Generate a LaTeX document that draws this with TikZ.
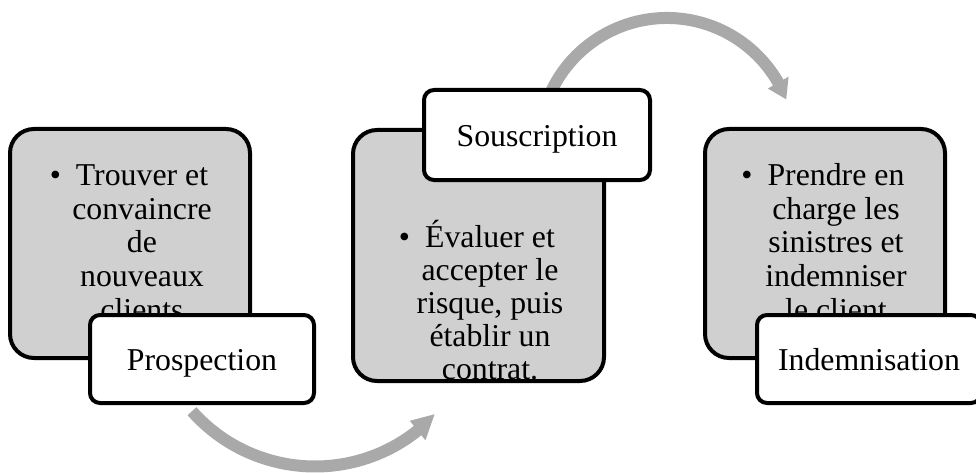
\documentclass[tikz,border=0pt]{standalone}
\usepackage{fontspec}
\setmainfont{Liberation Serif}
\definecolor{panelgray}{RGB}{208,208,208}
\definecolor{flowgray}{RGB}{169,169,169}
\newcommand\bodyfont{\fontsize{31.8}{33.8}\selectfont}
\newcommand\midfont{\fontsize{31.8}{33}\selectfont}
\begin{document}
\begin{tikzpicture}[x=1pt,y=1pt,
  panel/.style={draw=black, line width=4pt, fill=panelgray, rounded corners=24pt, inner sep=0pt},
  tag/.style={draw=black, line width=4pt, fill=white, rounded corners=10pt, inner sep=0pt,
    font=\bodyfont, text height=23pt, text depth=1pt},
  body/.style={align=center, anchor=north, inner sep=0pt, font=\bodyfont},
  flow/.style={draw=flowgray, line width=12pt},
  flowhead/.style={fill=flowgray}]
\useasboundingbox (0,0) rectangle (976,472);

% curved process arrows (drawn first, they pass behind the labels)
\coordinate (topc) at (667,326);
\coordinate (botc) at (315,170);
\draw[flow] ([shift={(165:128)}]topc) arc[start angle=165, end angle=28.5, radius=128];
\fill[flowhead] ([shift={(21.4:128)}]topc) -- ([shift={(29.7:116)}]topc) -- ([shift={(29.7:140)}]topc) -- cycle;
\draw[flow] ([shift={(221.6:164.5)}]botc) arc[start angle=221.6, end angle=310, radius=164.5];
\fill[flowhead] ([shift={(316.8:164)}]botc) -- ([shift={(308.6:152)}]botc) -- ([shift={(308.6:177)}]botc) -- cycle;

% grey content panels
\node[panel, minimum width=240pt, minimum height=229pt] (p1) at (130,228.5) {};
\node[panel, minimum width=251pt, minimum height=251pt] (p2) at (478.5,216.5) {};
\node[panel, minimum width=240pt, minimum height=229pt] (p3) at (825,228.5) {};

% bullet texts
\node[body] (t1) at (142,310.66) {\strut\llap{•\hspace{15pt}}Trouver et\\convaincre\\de\\nouveaux\\clients};
\node[body, font=\midfont] (t2) at (490,252.1) {\strut\llap{•\hspace{15pt}}Évaluer et\\accepter le\\risque, puis\\établir un\\contrat.};
\node[body] (t3) at (836,310.66) {\strut\llap{•\hspace{15pt}}Prendre en\\charge les\\sinistres et\\indemniser\\le client};

% step labels
\node[tag, minimum width=224pt, minimum height=88pt] (l1) at (202,113) {Prospection};
\node[tag, minimum width=226pt, minimum height=90pt] (l2) at (537,337) {Souscription};
\node[tag, minimum width=224pt, minimum height=88pt] (l3) at (869,113) {Indemnisation};
\end{tikzpicture}
\end{document}
